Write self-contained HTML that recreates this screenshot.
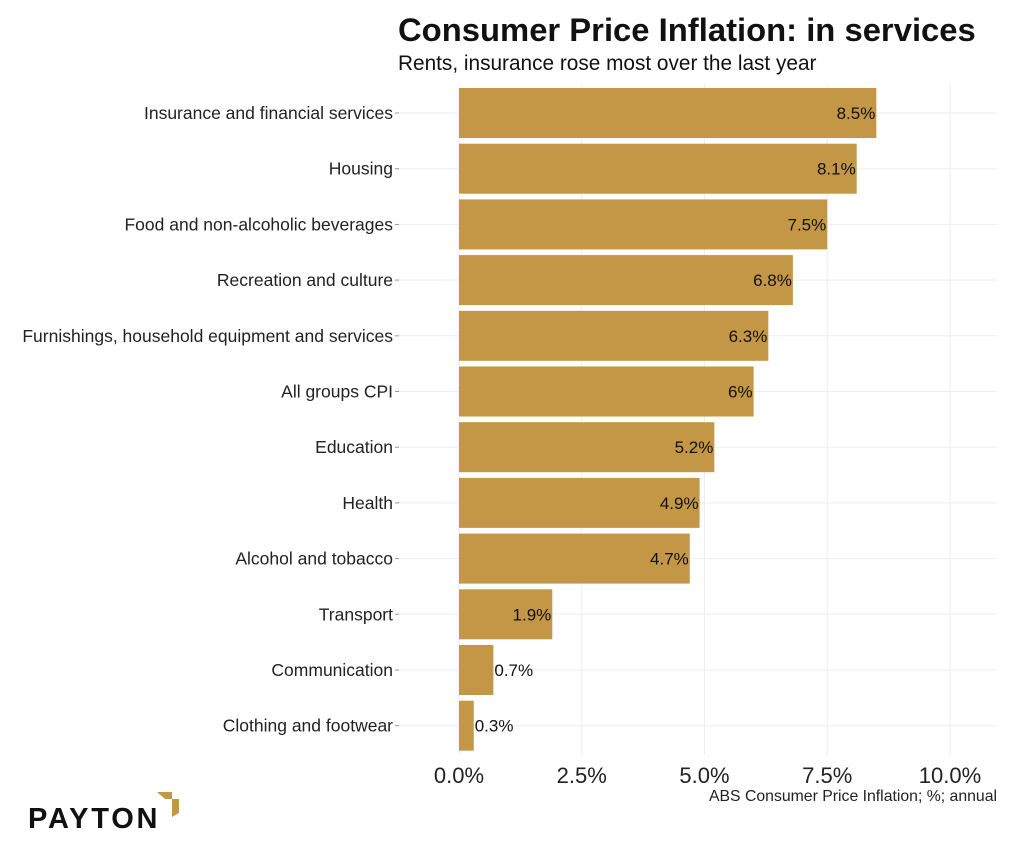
<!DOCTYPE html>
<html><head><meta charset="utf-8"><style>
body{margin:0;background:#fff;width:1032px;height:852px;overflow:hidden;font-family:"Liberation Sans",sans-serif}
</style></head><body>
<svg id="chart" width="1032" height="852" xmlns="http://www.w3.org/2000/svg">
<text x="398" y="41" font-size="32.8" font-weight="bold" fill="#111">Consumer Price Inflation: in services</text>
<text x="398" y="70" font-size="20.8" fill="#111">Rents, insurance rose most over the last year</text>
<g id="grid"></g><g id="bars"></g><g id="labels"></g><g id="xticks"></g>
<text x="997" y="801" font-size="15.8" text-anchor="end" fill="#222">ABS Consumer Price Inflation; %; annual</text>
<g>
<text x="28" y="828" font-size="29" font-weight="bold" fill="#111" letter-spacing="2.8">PAYTON</text>
<polygon points="157,792 172,792 172,799 165,799" fill="#c39746"/>
<polygon points="172,799 179,799 179,813 172,817" fill="#c39746"/>
</g>
</svg>
<script>
const categories=["Insurance and financial services","Housing","Food and non-alcoholic beverages","Recreation and culture","Furnishings, household equipment and services","All groups CPI","Education","Health","Alcohol and tobacco","Transport","Communication","Clothing and footwear"];
const values=[8.5,8.1,7.5,6.8,6.3,6.0,5.2,4.9,4.7,1.9,0.7,0.3];
const valueLabels=["8.5%","8.1%","7.5%","6.8%","6.3%","6%","5.2%","4.9%","4.7%","1.9%","0.7%","0.3%"];
const ticks=[0,2.5,5,7.5,10];
const tickLabels=["0.0%","2.5%","5.0%","7.5%","10.0%"];
const NS="http://www.w3.org/2000/svg";
const x=v=>459+v*49.1;
const yc=i=>113+i*55.7;
function mk(p,t,a){const e=document.createElementNS(NS,t);for(const k in a)e.setAttribute(k,a[k]);p.appendChild(e);return e;}
const grid=document.getElementById('grid'),bars=document.getElementById('bars'),labels=document.getElementById('labels'),xt=document.getElementById('xticks');
for(let i=0;i<ticks.length;i++){
 const g=mk(grid,'line',{x1:x(ticks[i]),x2:x(ticks[i]),y1:84,y2:755,stroke:'#eee','stroke-width':1});
 
 
 const t=mk(xt,'text',{x:x(ticks[i]),y:783,'font-size':22,'text-anchor':'middle',fill:'#222'});t.textContent=tickLabels[i];
 
 
}
for(let i=0;i<categories.length;i++){
 const gl=mk(grid,'line',{x1:398,x2:997,y1:yc(i),y2:yc(i),stroke:'#eee','stroke-width':1});
 
 
 const b=mk(bars,'rect',{x:x(0),y:yc(i)-25,width:x(values[i])-x(0),height:50,fill:'#c39746'});
 
 
 const c=mk(labels,'text',{x:393,y:yc(i)+6,'font-size':17.5,'text-anchor':'end',fill:'#222'});c.textContent=categories[i];
 
 
 const tk=mk(labels,'line',{x1:395,x2:399,y1:yc(i),y2:yc(i),stroke:'#999'});
 
 
 const v=mk(labels,'text',{x:x(values[i])+(values[i]<1.5?1:-1),y:yc(i)+6,'font-size':17,'text-anchor':values[i]<1.5?'start':'end',fill:'#111'});v.textContent=valueLabels[i];
 
 
}
</script>
</body></html>
